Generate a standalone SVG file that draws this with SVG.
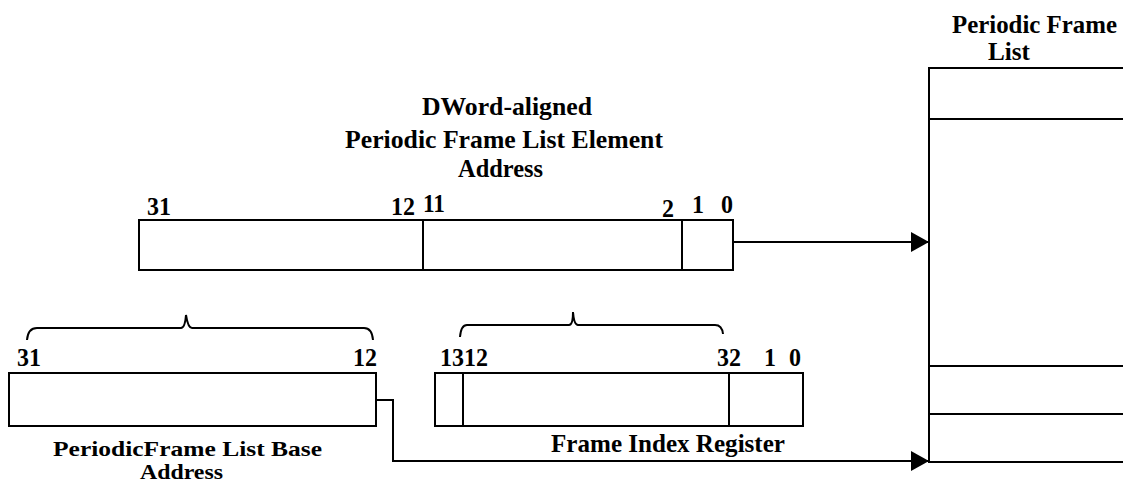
<svg xmlns="http://www.w3.org/2000/svg" width="1123" height="484" viewBox="0 0 1123 484">
<style>
.t{font-family:"Liberation Serif","Times New Roman",serif;font-weight:bold;font-size:26px;fill:#000}
.s{font-size:21px}
.b{fill:#fff;stroke:#000;stroke-width:2}
.l{fill:none;stroke:#000;stroke-width:2}
</style>
<defs>
<marker id="ah" markerWidth="18" markerHeight="20" refX="18" refY="10" orient="auto" markerUnits="userSpaceOnUse">
<path d="M0,0 L18,10 L0,20 Z" fill="#000"/>
</marker>
</defs>
<rect width="1123" height="484" fill="#fff"/>

<g id="periodic-frame-list">
<path class="l" d="M1123,68 H929 V462 H1123 M929,119 H1123 M929,366 H1123 M929,414 H1123"/>
<text class="t" x="952" y="33" textLength="165" lengthAdjust="spacingAndGlyphs">Periodic Frame</text>
<text class="t" x="988" y="60" textLength="42" lengthAdjust="spacingAndGlyphs">List</text>
</g>

<g id="element-address">
<text class="t" x="422" y="115" textLength="170" lengthAdjust="spacingAndGlyphs">DWord-aligned</text>
<text class="t" x="345" y="148" textLength="318" lengthAdjust="spacingAndGlyphs">Periodic Frame List Element</text>
<text class="t" x="458" y="177" textLength="85" lengthAdjust="spacingAndGlyphs">Address</text>
<rect class="b" x="139" y="220" width="594" height="50"/>
<line class="l" x1="423" y1="220" x2="423" y2="270"/>
<line class="l" x1="682" y1="220" x2="682" y2="270"/>
<text class="t" x="147" y="215" textLength="24" lengthAdjust="spacingAndGlyphs">31</text>
<text class="t" x="391" y="215" textLength="24" lengthAdjust="spacingAndGlyphs">12</text>
<text class="t" x="423" y="212" textLength="22" lengthAdjust="spacingAndGlyphs">11</text>
<text class="t" x="662" y="217" textLength="12" lengthAdjust="spacingAndGlyphs">2</text>
<text class="t" x="692" y="213" textLength="12" lengthAdjust="spacingAndGlyphs">1</text>
<text class="t" x="721" y="213" textLength="12" lengthAdjust="spacingAndGlyphs">0</text>
</g>

<g id="base-address">
<path class="l" d="M27,340 Q28,328 37,328 H181 Q185,328 186,315 Q188,328 192,328 H364 Q372,328 373,340"/>
<text class="t" x="17" y="366" textLength="24" lengthAdjust="spacingAndGlyphs">31</text>
<text class="t" x="353" y="366" textLength="24" lengthAdjust="spacingAndGlyphs">12</text>
<rect class="b" x="9" y="373" width="367" height="53"/>
<text class="t s" x="53" y="456" textLength="269" lengthAdjust="spacingAndGlyphs">PeriodicFrame List Base</text>
<text class="t s" x="140" y="479" textLength="83" lengthAdjust="spacingAndGlyphs">Address</text>
</g>

<g id="frame-index-register">
<path class="l" d="M460,337 Q461,325 467,325 H569 Q573,325 573,312 Q574,325 578,325 H715 Q722,325 723,334"/>
<text class="t" x="440" y="366" textLength="48" lengthAdjust="spacingAndGlyphs">1312</text>
<text class="t" x="717" y="366" textLength="12" lengthAdjust="spacingAndGlyphs">3</text>
<text class="t" x="729" y="366" textLength="12" lengthAdjust="spacingAndGlyphs">2</text>
<text class="t" x="764" y="366" textLength="12" lengthAdjust="spacingAndGlyphs">1</text>
<text class="t" x="789" y="366" textLength="12" lengthAdjust="spacingAndGlyphs">0</text>
<rect class="b" x="435" y="373" width="368" height="53"/>
<line class="l" x1="463" y1="373" x2="463" y2="426"/>
<line class="l" x1="729" y1="373" x2="729" y2="426"/>
<text class="t" x="551" y="452" textLength="234" lengthAdjust="spacingAndGlyphs">Frame Index Register</text>
</g>

<g id="connectors">
<path class="l" d="M733,242 H929" marker-end="url(#ah)"/>
<path class="l" d="M376,400 H393 V461 H929" marker-end="url(#ah)"/>
</g>
</svg>
